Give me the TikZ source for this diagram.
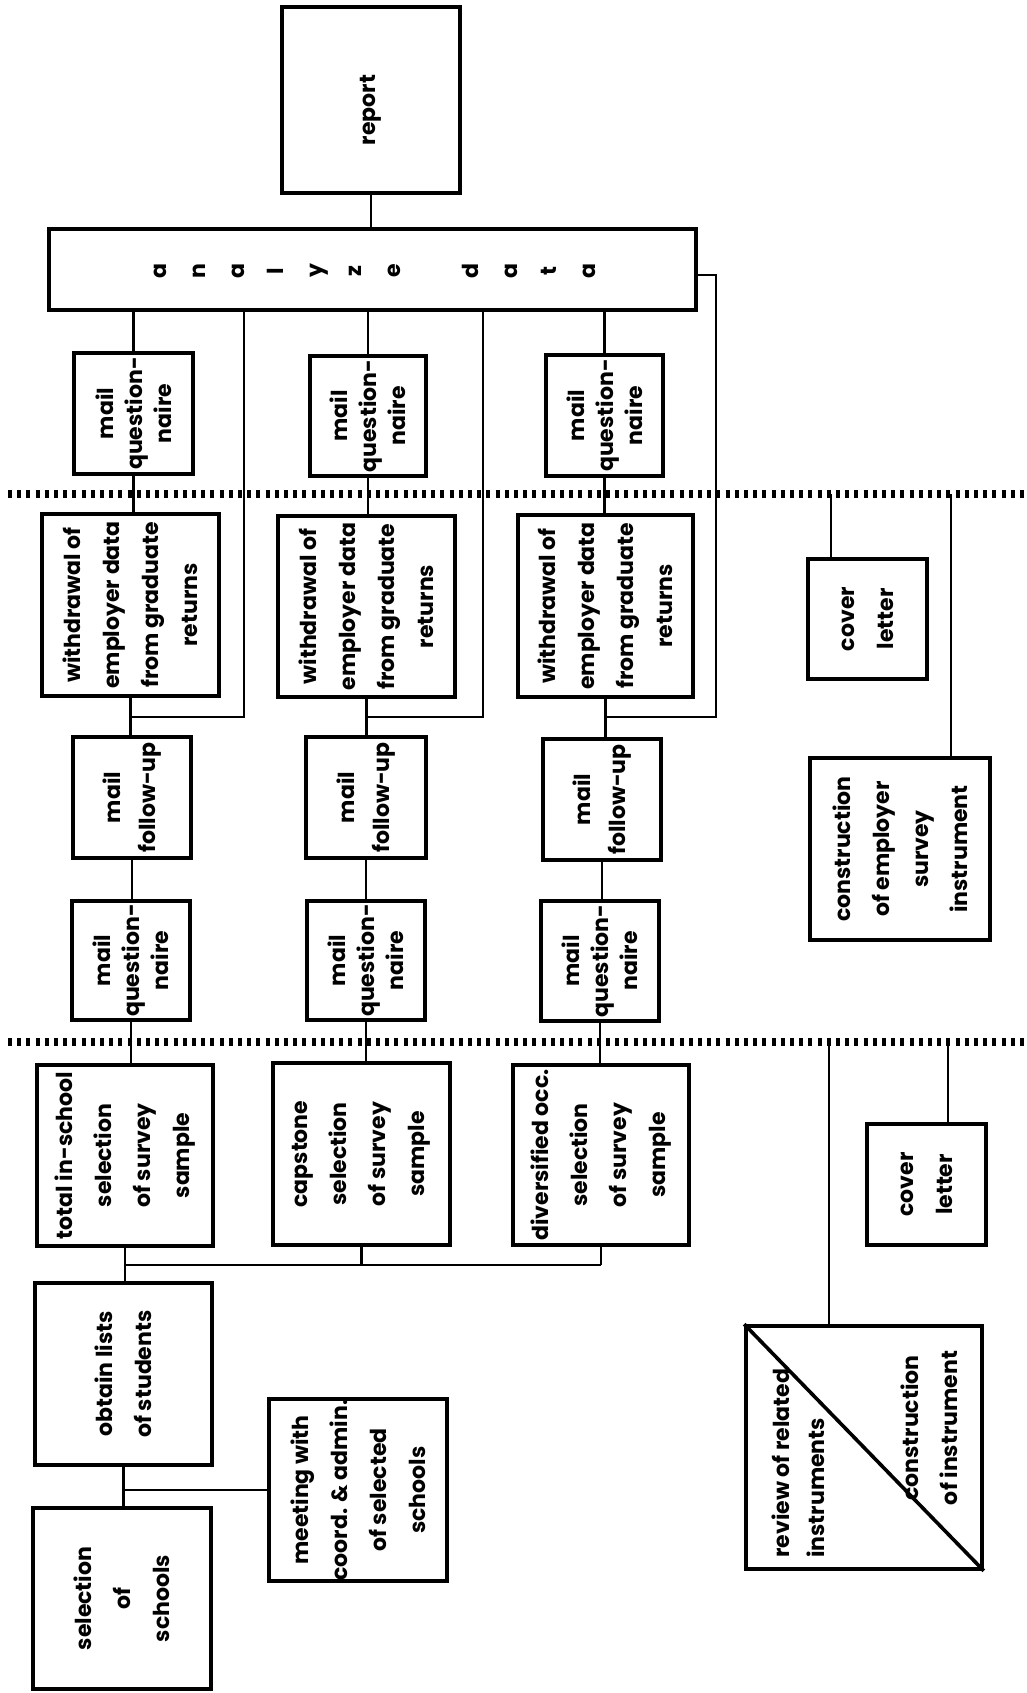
\documentclass[tikz,border=0pt]{standalone}
\usepackage{fontspec}
\setmainfont{Poppins}
\tikzset{
  bx/.style={draw, line width=1.8pt, inner sep=0pt},
  ln/.style={line width=1.4pt},
  dotline/.style={line width=4.2pt, dash pattern=on 2pt off 2.6pt},
  tx/.style={inner sep=0pt, rotate=90, align=center, font={\fontsize{11}{19.5}\selectfont\bfseries}},
  txq/.style={tx, font={\fontsize{11}{14.5}\selectfont\bfseries}},
  txf/.style={tx, font={\fontsize{11}{17.5}\selectfont\bfseries}},
}
\newcommand{\mybox}[5]{\node[bx, minimum width={(#4-#2)*0.5pt}, minimum height={(#5-#3)*0.5pt}] (#1) at ({(#2+#4)/2},{(#3+#5)/2}) {};}
\begin{document}
\begin{tikzpicture}[x=0.5pt, y=-0.5pt]
\fill[white] (0,0) rectangle (1027,1693);
\useasboundingbox (0,0) rectangle (1027,1693);

% dotted deadline lines
\coordinate (u1) at (8,494); \coordinate (u2) at (1027,494);
\coordinate (l1) at (8,1042); \coordinate (l2) at (1027,1042);
\draw[dotline] (u1) -- (u2);
\draw[dotline] (l1) -- (l2);

% boxes
\mybox{report}{282}{7}{460}{193}
\mybox{analyze}{49}{229}{696}{310}
\mybox{mqB1}{74}{353}{193}{474}
\mybox{mqB2}{310}{356}{426}{476}
\mybox{mqB3}{546}{355}{663}{476}
\mybox{wd1}{42}{514}{219}{696}
\mybox{wd2}{278}{516}{455}{697}
\mybox{wd3}{518}{515}{693}{697}
\mybox{mf1}{73}{737}{191}{858}
\mybox{mf2}{306}{737}{426}{858}
\mybox{mf3}{543}{739}{661}{860}
\mybox{mqA1}{72}{901}{190}{1020}
\mybox{mqA2}{307}{901}{425}{1020}
\mybox{mqA3}{541}{901}{659}{1021}
\mybox{total}{37}{1065}{213}{1246}
\mybox{capstone}{273}{1063}{450}{1245}
\mybox{divers}{513}{1065}{689}{1245}
\mybox{obtain}{35}{1283}{212}{1465}
\mybox{sel}{33}{1508}{211}{1689}
\mybox{meeting}{269}{1399}{447}{1581}
\mybox{cover1}{808}{559}{927}{679}
\mybox{constremp}{810}{758}{990}{940}
\mybox{cover2}{867}{1124}{986}{1245}
\mybox{review}{746}{1326}{982}{1569}
\draw[bx] (review.north west) -- (review.south east);

% texts
\node[tx] (reportT) at (371,110) {report};
\node[tx] (analyzeT) at (375,271) {a\\n\\a\\l\\y\\z\\e\\~\\d\\a\\t\\a};
\node[txq] (mqB1T) at (mqB1) {mail\\question-\\naire};
\node[txq] (mqB2T) at (mqB2) {mail\\question-\\naire};
\node[txq] (mqB3T) at (mqB3) {mail\\question-\\naire};
\node[tx] (wd1T) at (wd1) {withdrawal of\\employer data\\from graduate\\returns};
\node[tx] (wd2T) at (wd2) {withdrawal of\\employer data\\from graduate\\returns};
\node[tx] (wd3T) at (wd3) {withdrawal of\\employer data\\from graduate\\returns};
\node[txf] (mf1T) at (mf1) {mail\\follow-up};
\node[txf] (mf2T) at (mf2) {mail\\follow-up};
\node[txf] (mf3T) at (mf3) {mail\\follow-up};
\node[txq] (mqA1T) at (mqA1) {mail\\question-\\naire};
\node[txq] (mqA2T) at (mqA2) {mail\\question-\\naire};
\node[txq] (mqA3T) at (mqA3) {mail\\question-\\naire};
\node[tx] (totalT) at (total) {total in-school\\selection\\of survey\\sample};
\node[tx] (capstoneT) at (capstone) {capstone\\selection\\of survey\\sample};
\node[tx] (diversT) at (divers) {diversified occ.\\selection\\of survey\\sample};
\node[tx] (obtainT) at (obtain) {obtain lists\\of students};
\node[tx] (selT) at (sel) {selection\\of\\schools};
\node[tx] (meetingT) at (meeting) {meeting with\\coord. \& admin.\\of selected\\schools};
\node[tx] (cover1T) at (cover1) {cover\\letter};
\node[tx] (constrempT) at (constremp) {construction\\of employer\\survey\\instrument};
\node[tx] (cover2T) at (cover2) {cover\\letter};
\node[tx, align=left, font={\fontsize{11}{17.5}\selectfont\bfseries}, anchor=west] (reviewT) at (798,1558) {review of related\\instruments};
\node[tx] (constrT) at (929,1428) {construction\\of instrument};

% connectors
\draw[ln] (report.south) -- (report.south |- analyze.north);
\draw[ln] (mqB1.north |- analyze.south) -- (mqB1.north);
\draw[ln] (mqB2.north |- analyze.south) -- (mqB2.north);
\draw[ln] (mqB3.north |- analyze.south) -- (mqB3.north);
\foreach \a/\b in {mqB1/wd1, wd1/mf1, mf1/mqA1, mqA1/total, mqB2/wd2, wd2/mf2, mf2/mqA2, mqA2/capstone, mqB3/wd3, wd3/mf3, mf3/mqA3, mqA3/divers, total/obtain, obtain/sel}
  \draw[ln] (\a.south) -- (\a.south |- \b.north);
\draw[ln] (obtain.south |- meeting.west) -- (meeting.west);
\coordinate (hb) at (0,1265);
\draw[ln] (total.south |- hb) -- (divers.south |- hb);
\draw[ln] (capstone.south) -- (capstone.south |- hb);
\draw[ln] (divers.south) -- (divers.south |- hb);
\coordinate (ja) at (244,717);
\coordinate (jb) at (483,717);
\coordinate (jc) at (716,717);
\coordinate (jd) at (716,275);
\draw[ln] (analyze.south -| ja) -- (ja) -- (ja -| wd1.south);
\draw[ln] (analyze.south -| jb) -- (jb) -- (jb -| wd2.south);
\draw[ln] (analyze.east |- jd) -- (jd) -- (jc) -- (jc -| wd3.south);
\coordinate (c1) at (831,494);
\coordinate (c2) at (951,494);
\coordinate (c3) at (829,1042);
\coordinate (c4) at (948,1042);
\draw[ln] (c1) -- (c1 |- cover1.north);
\draw[ln] (c2) -- (c2 |- constremp.north);
\draw[ln] (c3) -- (c3 |- review.north);
\draw[ln] (c4) -- (c4 |- cover2.north);
\end{tikzpicture}
\end{document}
